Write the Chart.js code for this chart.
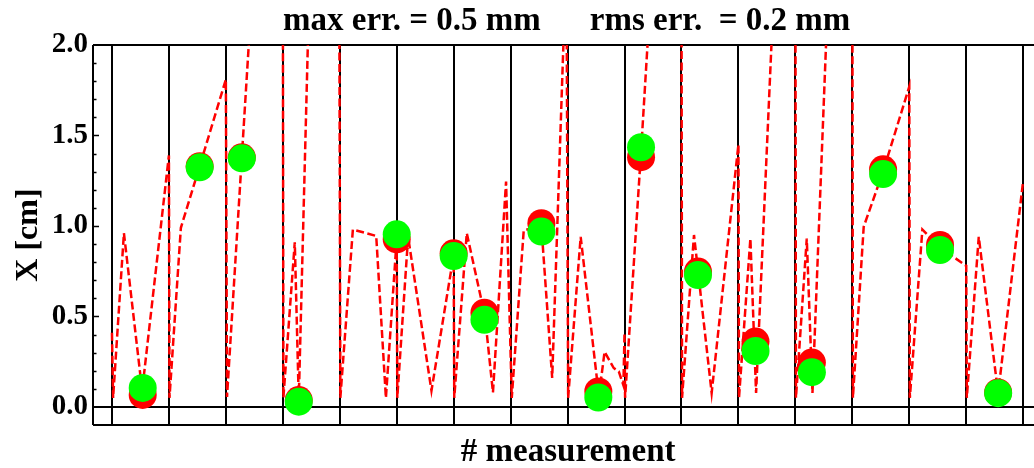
<!DOCTYPE html>
<html>
<head>
<meta charset="utf-8">
<script src="https://cdn.jsdelivr.net/npm/chart.js@4.4.1/dist/chart.umd.min.js"></script>
<style>
  html, body { margin: 0; padding: 0; background: #fff; }
  #wrap { width: 1034px; height: 468px; }
</style>
</head>
<body>
<div id="wrap"><canvas id="chart"></canvas></div>
<script>
// model curve (red dashed), one saw-tooth per measurement
const curveX = [
  0.00, 0.02, 0.21, 0.53, 1.00,
  1.01, 1.21, 1.54, 2.00,
  2.02, 2.28, 2.50, 3.00,
  3.01, 3.21, 3.28, 3.48, 3.99,
  4.01, 4.23, 4.64, 4.81, 5.00,
  5.01, 5.20, 5.61, 6.00,
  6.01, 6.23, 6.55, 6.69, 6.92,
  7.02, 7.23, 7.54, 7.73, 7.98,
  8.01, 8.23, 8.55, 8.65, 8.81, 8.90, 8.98, 9.00,
  9.01, 9.29, 9.50, 10.00,
  10.01, 10.22, 10.53, 11.00,
  11.01, 11.21, 11.31, 11.65, 12.00,
  12.01, 12.20, 12.30, 12.60, 13.00,
  13.01, 13.20, 13.54, 14.00,
  14.01, 14.23, 14.54, 15.00,
  15.01, 15.22, 15.56, 16.00
];
const curveY = [
  0.41, 0.05, 0.96, 0.09, 1.39,
  0.05, 0.99, 1.33, 1.81,
  0.055, 1.38, 2.50, 2.50,
  0.05, 0.91, 0.04, 2.50, 2.50,
  0.05, 0.98, 0.945, 0.05, 0.93,
  0.05, 0.94, 0.09, 0.84,
  0.05, 0.96, 0.50, 0.08, 1.245,
  0.05, 0.975, 1.00, 0.16, 2.50,
  0.05, 0.94, 0.06, 0.305, 0.215, 0.195, 0.12, 0.41,
  0.05, 1.41, 2.50, 2.50,
  0.05, 0.95, 0.077, 1.45,
  0.05, 0.93, 0.077, 2.50, 2.50,
  0.05, 0.93, 0.077, 2.50, 2.50,
  0.05, 0.996, 1.30, 1.77,
  0.05, 0.98, 0.88, 0.78,
  0.05, 0.94, 0.075, 1.25
];

// measurements
const measX  = [0.54, 1.54, 2.28, 3.28, 5.00, 6.00, 6.54, 7.54, 8.54, 9.29, 10.29, 11.30, 12.29, 13.54, 14.54, 15.56];
const redY   = [0.066, 1.33, 1.379, 0.038, 0.926, 0.849, 0.521, 1.015, 0.085, 1.38, 0.748, 0.361, 0.245, 1.313, 0.895, 0.08];
const greenY = [0.105, 1.324, 1.374, 0.029, 0.954, 0.834, 0.481, 0.969, 0.052, 1.435, 0.729, 0.309, 0.192, 1.287, 0.867, 0.076];

const gridX  = [0, 1, 2, 3, 4, 5, 6, 7, 8, 9, 10, 11, 12, 13, 14, 15, 16];
const yTicks = [0, 0.5, 1.0, 1.5, 2.0];

const serif = '"Liberation Serif", "DejaVu Serif", serif';

const framePlugin = {
  id: 'frame',
  beforeDatasetsDraw(chart) {
    const { ctx, chartArea: a, scales: { y } } = chart;
    ctx.save();
    ctx.strokeStyle = '#000';
    ctx.lineWidth = 2;
    ctx.beginPath();
    ctx.moveTo(a.left, a.top); ctx.lineTo(a.right, a.top);
    ctx.moveTo(a.left, a.bottom); ctx.lineTo(a.right, a.bottom);
    ctx.moveTo(a.left, a.top); ctx.lineTo(a.left, a.bottom);
    const y0 = Math.round(y.getPixelForValue(0));
    ctx.moveTo(a.left, y0); ctx.lineTo(a.right, y0);
    ctx.stroke();

    // inward ticks on the left axis
    ctx.lineWidth = 1.5;
    ctx.beginPath();
    for (let i = 1; i < 20; i++) {
      const py = Math.round(y.getPixelForValue(i / 10)) + 0.5;
      const len = i % 5 === 0 ? 6 : 3.5;
      ctx.moveTo(a.left, py); ctx.lineTo(a.left + len, py);
    }
    ctx.stroke();
    ctx.restore();
  },
  afterDraw(chart) {
    const { ctx, chartArea: a } = chart;
    const w = a.right - a.left;
    ctx.save();
    ctx.fillStyle = '#000';
    ctx.textBaseline = 'alphabetic';

    ctx.font = 'bold 33px ' + serif;
    ctx.textAlign = 'left';
    ctx.fillText('max err. = 0.5 mm', a.left + 0.202 * w, 30);
    ctx.fillText('rms err.  = 0.2 mm', a.left + 0.528 * w, 30);

    ctx.font = 'bold 33px ' + serif;
    ctx.textAlign = 'center';
    ctx.fillText('# measurement', a.left + 0.505 * w, 461);

    ctx.font = 'bold 32px ' + serif;
    ctx.translate(37, (a.top + a.bottom) / 2);
    ctx.rotate(-Math.PI / 2);
    ctx.fillText('X [cm]', 0, 0);
    ctx.restore();
  }
};

new Chart(document.getElementById('chart'), {
  type: 'scatter',
  data: {
    datasets: [
      {
        label: 'fit',
        data: measX.map((x, i) => ({ x, y: greenY[i] })),
        pointRadius: 14,
        pointBorderWidth: 0,
        pointBackgroundColor: '#00ff00',
        order: 1
      },
      {
        label: 'measured',
        data: measX.map((x, i) => ({ x, y: redY[i] })),
        pointRadius: 14,
        pointBorderWidth: 0,
        pointBackgroundColor: '#ff0000',
        order: 2
      },
      {
        label: 'model',
        data: curveX.map((x, i) => ({ x, y: curveY[i] })),
        showLine: true,
        borderColor: '#ff0000',
        borderWidth: 2.5,
        borderDash: [8, 3.5],
        pointRadius: 0,
        fill: false,
        tension: 0,
        order: 3
      }
    ]
  },
  options: {
    responsive: true,
    maintainAspectRatio: false,
    animation: false,
    devicePixelRatio: 1,
    layout: { autoPadding: false, padding: { top: 45, right: 0, left: 0, bottom: 0 } },
    plugins: {
      legend: { display: false },
      tooltip: { enabled: false }
    },
    scales: {
      x: {
        type: 'linear',
        min: -0.333,
        max: 16.19,
        afterBuildTicks: s => { s.ticks = gridX.map(v => ({ value: v })); },
        afterFit: s => { s.height = 43; },
        ticks: { display: false },
        grid: { color: '#000', lineWidth: 2, drawTicks: false },
        border: { display: false }
      },
      y: {
        min: -0.1,
        max: 2.0,
        afterBuildTicks: s => { s.ticks = yTicks.map(v => ({ value: v })); },
        afterFit: s => { s.width = 93; },
        ticks: {
          color: '#000',
          padding: 5,
          font: { family: serif, size: 29, weight: 'bold' },
          callback: v => Number(v).toFixed(1)
        },
        grid: { display: false, drawTicks: false },
        border: { display: false }
      }
    }
  },
  plugins: [framePlugin]
});
</script>
</body>
</html>
